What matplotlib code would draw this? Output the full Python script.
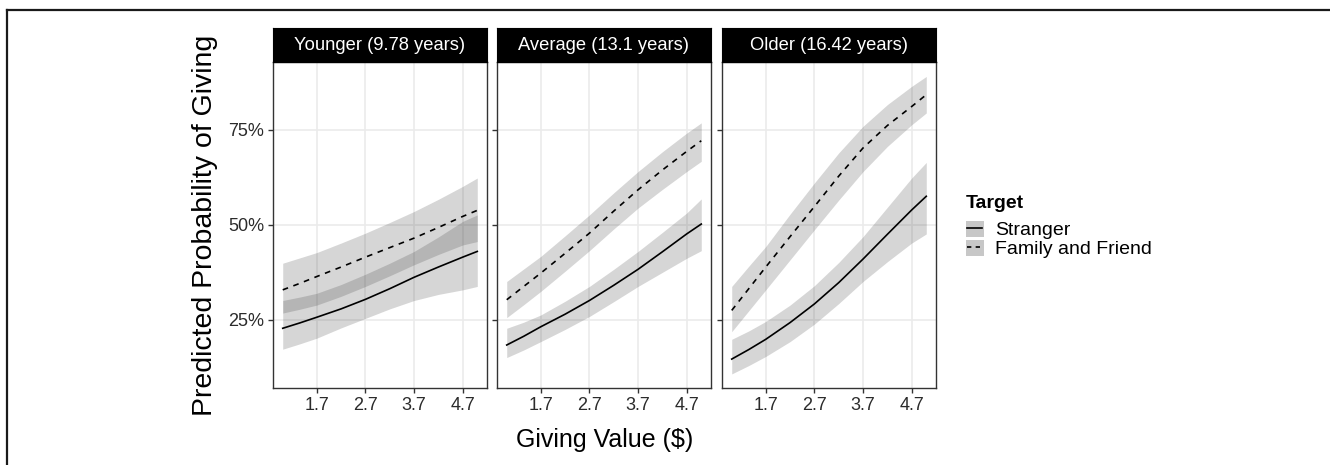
import matplotlib
matplotlib.use("Agg")
import matplotlib.pyplot as plt
from matplotlib.patches import Rectangle
from matplotlib.lines import Line2D
from matplotlib.ticker import FuncFormatter

plt.rcParams['font.family'] = ['Liberation Sans', 'DejaVu Sans']

# ---------------- data ----------------
panel_titles = ["Younger (9.78 years)", "Average (13.1 years)", "Older (16.42 years)"]
giving_value = [1.0, 1.35, 1.7, 2.2, 2.7, 3.2, 3.7, 4.2, 4.7, 5.0]
x_ticks = [1.7, 2.7, 3.7, 4.7]
y_ticks = [0.25, 0.50, 0.75]
legend_title = "Target"
target_labels = ["Stranger", "Family and Friend"]

# Younger (percent)
young_str_fit = [22.8, 24.2, 25.7, 27.9, 30.4, 33.2, 36.2, 38.9, 41.5, 43.0]
young_str_lo = [17.3, 18.7, 20.2, 22.9, 25.4, 27.9, 30.1, 31.7, 32.9, 33.8]
young_str_hi = [30.1, 31.0, 32.0, 34.3, 37.0, 39.9, 43.0, 46.8, 50.9, 52.6]
young_fam_fit = [32.9, 34.6, 36.4, 38.9, 41.5, 44.0, 46.5, 49.3, 52.2, 53.8]
young_fam_lo = [26.8, 27.8, 28.9, 31.2, 33.8, 36.6, 39.5, 42.2, 44.7, 45.6]
young_fam_hi = [39.9, 41.3, 42.7, 45.2, 47.8, 50.6, 53.5, 56.7, 60.1, 62.3]

# Average (percent)
avg_str_fit = [18.4, 20.7, 23.2, 26.5, 30.1, 34.1, 38.3, 42.9, 47.6, 50.2]
avg_str_lo = [15.1, 17.1, 19.3, 22.5, 25.9, 29.8, 33.8, 37.5, 41.2, 43.2]
avg_str_hi = [22.8, 24.4, 26.3, 29.9, 33.8, 38.3, 43.0, 48.0, 53.1, 56.8]
avg_fam_fit = [30.3, 33.8, 37.3, 42.5, 47.8, 53.6, 59.2, 64.4, 69.3, 72.1]
avg_fam_lo = [25.6, 29.0, 32.5, 37.8, 43.2, 48.9, 54.4, 59.3, 64.0, 66.7]
avg_fam_hi = [35.1, 38.4, 41.7, 47.1, 52.6, 58.4, 64.0, 69.2, 74.1, 76.8]

# Older (percent)
old_str_fit = [14.7, 17.2, 19.9, 24.3, 29.2, 34.8, 41.0, 47.5, 53.9, 57.5]
old_str_lo = [10.8, 13.0, 15.4, 19.3, 23.9, 29.3, 35.1, 40.3, 45.2, 47.6]
old_str_hi = [19.9, 22.1, 24.6, 28.9, 34.0, 40.1, 46.9, 54.6, 62.3, 66.4]
old_fam_fit = [27.5, 33.2, 38.9, 46.9, 54.8, 62.8, 70.2, 76.1, 81.1, 84.2]
old_fam_lo = [21.9, 27.4, 32.9, 40.8, 48.7, 56.5, 64.0, 70.6, 76.3, 79.4]
old_fam_hi = [33.8, 39.1, 44.3, 52.8, 61.0, 68.9, 75.9, 81.6, 86.4, 89.0]

panels = [
    (young_str_fit, young_str_lo, young_str_hi, young_fam_fit, young_fam_lo, young_fam_hi),
    (avg_str_fit, avg_str_lo, avg_str_hi, avg_fam_fit, avg_fam_lo, avg_fam_hi),
    (old_str_fit, old_str_lo, old_str_hi, old_fam_fit, old_fam_lo, old_fam_hi),
]

# ---------------- figure ----------------
W, H = 1330, 465
fig = plt.figure(figsize=(W / 100, H / 100), dpi=100)

# outer frame (only top & left visible in the crop)
fig.add_artist(Line2D([7 / W, 7 / W], [0, 1 - 10 / H], transform=fig.transFigure,
                      color='#1a1a1a', lw=1.6))
fig.add_artist(Line2D([7 / W, 1], [1 - 10 / H, 1 - 10 / H], transform=fig.transFigure,
                      color='#1a1a1a', lw=1.6))

lefts = [273, 497, 722]
pw = 214
top_px, bot_px = 62, 388
strip_top = 28

band_fill = '#333333'
band_alpha = 0.2
dash = (0, (3.4, 3.4))

for i, (left, data, title) in enumerate(zip(lefts, panels, panel_titles)):
    ax = fig.add_axes([left / W, 1 - bot_px / H, pw / W, (bot_px - top_px) / H])
    s_fit, s_lo, s_hi, f_fit, f_lo, f_hi = [[v / 100 for v in arr] for arr in data]
    ax.fill_between(giving_value, s_lo, s_hi, color=band_fill, alpha=band_alpha, lw=0, zorder=2)
    ax.fill_between(giving_value, f_lo, f_hi, color=band_fill, alpha=band_alpha, lw=0, zorder=2)
    ax.plot(giving_value, s_fit, color='black', lw=1.2, zorder=3)
    ax.plot(giving_value, f_fit, color='black', lw=1.2, linestyle=dash, zorder=3)

    ax.set_xlim(0.8, 5.2)
    ax.set_ylim(0.071, 0.928)
    ax.set_xticks(x_ticks)
    ax.set_xticklabels([f"{t:.1f}" for t in x_ticks])
    ax.set_yticks(y_ticks)
    ax.yaxis.set_major_formatter(FuncFormatter(lambda v, p: f"{int(round(v * 100))}%"))
    ax.grid(True, color='#ebebeb', lw=1.2, zorder=0)
    ax.set_axisbelow(True)
    for sp in ax.spines.values():
        sp.set_color('#333333')
        sp.set_linewidth(1.0)
    ax.tick_params(direction='out', length=3.5, width=1.0, color='#333333',
                   labelsize=13, labelcolor='#2b2b2b', pad=3)
    if i > 0:
        ax.tick_params(axis='y', labelleft=False)

    sax = fig.add_axes([left / W, 1 - top_px / H, pw / W, (top_px - strip_top) / H])
    sax.set_facecolor('black')
    sax.set_xticks([])
    sax.set_yticks([])
    for sp in sax.spines.values():
        sp.set_color('black')
    sax.text(0.5, 0.5, title, color='white', fontsize=13.2, ha='center', va='center',
             transform=sax.transAxes)

fig.text(205 / W, 1 - 225 / H, "Predicted Probability of Giving", rotation=90,
         fontsize=20.5, ha='center', va='center', color='black')
fig.text(605 / W, 1 - 440 / H, "Giving Value ($)", fontsize=18, ha='center',
         va='center', color='black')


# legend with ggplot-like keys: grey square + line
class BandLineHandler:
    def legend_artist(self, legend, orig_handle, fontsize, handlebox):
        x0, y0 = -handlebox.xdescent, -handlebox.ydescent
        w, h = handlebox.width, handlebox.height
        tr = handlebox.get_transform()
        r = Rectangle((x0, y0), w, h - 1.0, facecolor=band_fill, alpha=0.27,
                      edgecolor='none', transform=tr)
        ln = Line2D([x0 + 0.08 * w, x0 + 0.92 * w], [y0 + h / 2, y0 + h / 2],
                    color='black', lw=1.2, linestyle=orig_handle.get_linestyle(),
                    transform=tr)
        if orig_handle.get_linestyle() != '-':
            ln.set_dashes((2.6, 2.6))
        handlebox.add_artist(r)
        handlebox.add_artist(ln)
        return r


fig.text(966 / W, 1 - 203 / H, legend_title, fontsize=14, fontweight='bold',
         ha='left', va='center', color='black')
h_str = Line2D([], [], color='black', linestyle='-')
h_fam = Line2D([], [], color='black', linestyle='--')
leg = fig.legend([h_str, h_fam], target_labels,
                 handler_map={Line2D: BandLineHandler()},
                 loc='upper left', bbox_to_anchor=(966 / W, 1 - 220 / H),
                 frameon=False, fontsize=14,
                 handlelength=0.9, handleheight=0.95, handletextpad=0.6,
                 labelspacing=0.0, borderpad=0.0, borderaxespad=0.0)

fig.savefig("out.png", dpi=100)
